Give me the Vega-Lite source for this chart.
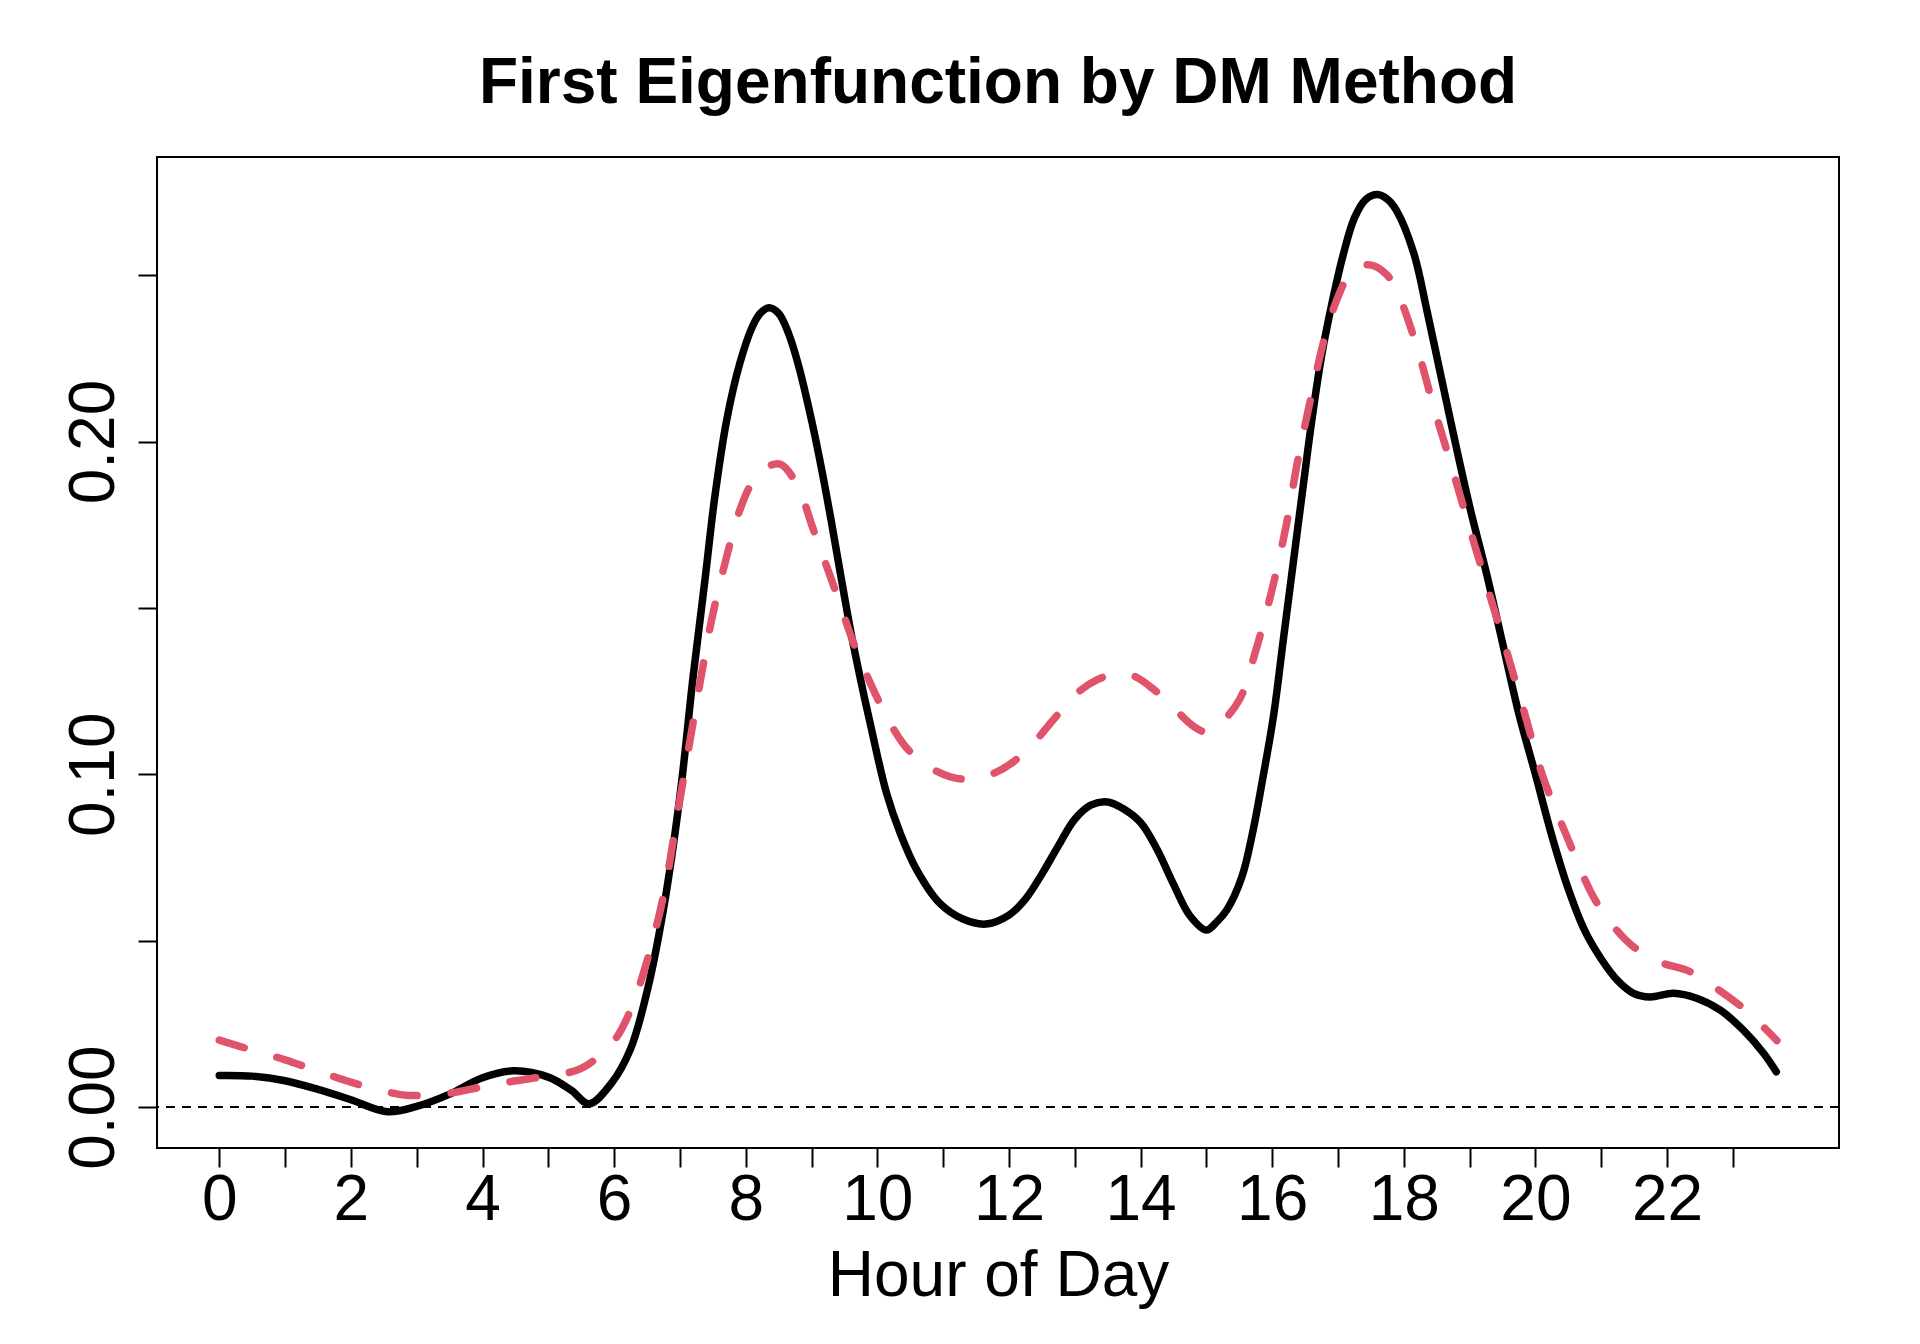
{
  "$schema": "https://vega.github.io/schema/vega-lite/v6.json",
  "width": 1682,
  "height": 991,
  "autosize": {"type": "none"},
  "padding": {"left": 157, "top": 157, "right": 81, "bottom": 196},
  "background": "white",
  "title": {
    "text": "First Eigenfunction by DM Method",
    "font": "Liberation Sans",
    "fontSize": 64,
    "fontWeight": "bold",
    "color": "black",
    "anchor": "middle",
    "baseline": "alphabetic",
    "offset": -10
  },
  "datasets": {
    "solid": [
      {"hour": 0, "value": 0.0095}, {"hour": 0.5, "value": 0.0093}, {"hour": 1, "value": 0.0079},
      {"hour": 1.5, "value": 0.0053}, {"hour": 2, "value": 0.0022}, {"hour": 2.55, "value": -0.0014},
      {"hour": 3, "value": 0.0002}, {"hour": 3.5, "value": 0.0039}, {"hour": 4, "value": 0.0088},
      {"hour": 4.47, "value": 0.0109}, {"hour": 5, "value": 0.009}, {"hour": 5.35, "value": 0.005},
      {"hour": 5.62, "value": 0.001}, {"hour": 5.96, "value": 0.0072}, {"hour": 6.25, "value": 0.0175},
      {"hour": 6.5, "value": 0.0347}, {"hour": 6.75, "value": 0.0595}, {"hour": 7, "value": 0.0935},
      {"hour": 7.2, "value": 0.1293}, {"hour": 7.38, "value": 0.1584}, {"hour": 7.53, "value": 0.1834},
      {"hour": 7.71, "value": 0.2064}, {"hour": 7.91, "value": 0.2235}, {"hour": 8.1, "value": 0.2345},
      {"hour": 8.22, "value": 0.2385}, {"hour": 8.35, "value": 0.2402}, {"hour": 8.5, "value": 0.2385},
      {"hour": 8.65, "value": 0.2325}, {"hour": 8.8, "value": 0.223}, {"hour": 9, "value": 0.2064},
      {"hour": 9.15, "value": 0.192}, {"hour": 9.3, "value": 0.176}, {"hour": 9.45, "value": 0.159},
      {"hour": 9.6, "value": 0.1425}, {"hour": 9.75, "value": 0.128}, {"hour": 9.9, "value": 0.1145},
      {"hour": 10.14, "value": 0.0943}, {"hour": 10.35, "value": 0.0822}, {"hour": 10.6, "value": 0.0712},
      {"hour": 10.95, "value": 0.0612}, {"hour": 11.3, "value": 0.0565}, {"hour": 11.65, "value": 0.055},
      {"hour": 12, "value": 0.0577}, {"hour": 12.25, "value": 0.0625}, {"hour": 12.5, "value": 0.07},
      {"hour": 12.75, "value": 0.0785}, {"hour": 13, "value": 0.0865}, {"hour": 13.25, "value": 0.0908},
      {"hour": 13.5, "value": 0.0917}, {"hour": 13.75, "value": 0.0895}, {"hour": 14, "value": 0.0855},
      {"hour": 14.25, "value": 0.0775}, {"hour": 14.5, "value": 0.067}, {"hour": 14.75, "value": 0.0575},
      {"hour": 15, "value": 0.0532}, {"hour": 15.15, "value": 0.0555}, {"hour": 15.31, "value": 0.0592},
      {"hour": 15.54, "value": 0.0692}, {"hour": 15.71, "value": 0.0832}, {"hour": 15.85, "value": 0.098},
      {"hour": 16.02, "value": 0.1175}, {"hour": 16.17, "value": 0.1406}, {"hour": 16.32, "value": 0.1636},
      {"hour": 16.47, "value": 0.1865}, {"hour": 16.6, "value": 0.2061}, {"hour": 16.75, "value": 0.2257},
      {"hour": 16.91, "value": 0.2417}, {"hour": 17.08, "value": 0.2562}, {"hour": 17.25, "value": 0.2672},
      {"hour": 17.42, "value": 0.2727}, {"hour": 17.6, "value": 0.2742}, {"hour": 17.75, "value": 0.2728},
      {"hour": 17.89, "value": 0.2694}, {"hour": 18.15, "value": 0.2567}, {"hour": 18.35, "value": 0.2395},
      {"hour": 18.55, "value": 0.221}, {"hour": 18.75, "value": 0.2026}, {"hour": 19.01, "value": 0.1797},
      {"hour": 19.26, "value": 0.1601}, {"hour": 19.5, "value": 0.1395}, {"hour": 19.75, "value": 0.118},
      {"hour": 20, "value": 0.1}, {"hour": 20.25, "value": 0.0815}, {"hour": 20.5, "value": 0.0655},
      {"hour": 20.75, "value": 0.053}, {"hour": 21, "value": 0.0445}, {"hour": 21.25, "value": 0.038},
      {"hour": 21.49, "value": 0.0342}, {"hour": 21.74, "value": 0.0331}, {"hour": 22.1, "value": 0.0342},
      {"hour": 22.45, "value": 0.0327}, {"hour": 22.81, "value": 0.0291}, {"hour": 23.16, "value": 0.0231},
      {"hour": 23.47, "value": 0.0161}, {"hour": 23.66, "value": 0.0106}
    ],
    "dashed": [
      {"hour": 0, "value": 0.0201}, {"hour": 0.5, "value": 0.0171}, {"hour": 1, "value": 0.0142},
      {"hour": 1.5, "value": 0.0108}, {"hour": 2, "value": 0.0075}, {"hour": 2.5, "value": 0.0048},
      {"hour": 2.87, "value": 0.0035}, {"hour": 3.5, "value": 0.0042}, {"hour": 4, "value": 0.0061},
      {"hour": 4.5, "value": 0.0079}, {"hour": 5, "value": 0.0094}, {"hour": 5.5, "value": 0.0116},
      {"hour": 6, "value": 0.02}, {"hour": 6.25, "value": 0.0292}, {"hour": 6.5, "value": 0.0439},
      {"hour": 6.75, "value": 0.0635}, {"hour": 7, "value": 0.0925}, {"hour": 7.33, "value": 0.1303},
      {"hour": 7.48, "value": 0.1463}, {"hour": 7.71, "value": 0.1654}, {"hour": 7.91, "value": 0.1794},
      {"hour": 8.09, "value": 0.1874}, {"hour": 8.3, "value": 0.192}, {"hour": 8.52, "value": 0.1932},
      {"hour": 8.77, "value": 0.1874}, {"hour": 9.03, "value": 0.1734}, {"hour": 9.36, "value": 0.1553},
      {"hour": 9.69, "value": 0.1368}, {"hour": 10.09, "value": 0.1193}, {"hour": 10.4, "value": 0.109},
      {"hour": 10.7, "value": 0.1033}, {"hour": 11.1, "value": 0.0993}, {"hour": 11.45, "value": 0.0985},
      {"hour": 11.77, "value": 0.1003}, {"hour": 12.05, "value": 0.1035}, {"hour": 12.37, "value": 0.1093},
      {"hour": 12.7, "value": 0.117}, {"hour": 13.03, "value": 0.1243}, {"hour": 13.35, "value": 0.1285},
      {"hour": 13.64, "value": 0.1303}, {"hour": 13.9, "value": 0.1295}, {"hour": 14.2, "value": 0.1255},
      {"hour": 14.5, "value": 0.12}, {"hour": 14.8, "value": 0.1145}, {"hour": 15, "value": 0.1127},
      {"hour": 15.2, "value": 0.115}, {"hour": 15.51, "value": 0.1227}, {"hour": 15.74, "value": 0.1365},
      {"hour": 15.99, "value": 0.1549}, {"hour": 16.21, "value": 0.1745}, {"hour": 16.38, "value": 0.1934},
      {"hour": 16.58, "value": 0.2124}, {"hour": 16.8, "value": 0.2314}, {"hour": 17, "value": 0.2435},
      {"hour": 17.18, "value": 0.2505}, {"hour": 17.35, "value": 0.2528}, {"hour": 17.51, "value": 0.253},
      {"hour": 17.68, "value": 0.2512}, {"hour": 17.84, "value": 0.2475}, {"hour": 18.17, "value": 0.2303},
      {"hour": 18.45, "value": 0.2107}, {"hour": 18.73, "value": 0.1923}, {"hour": 19.01, "value": 0.1733},
      {"hour": 19.29, "value": 0.1549}, {"hour": 19.57, "value": 0.1365}, {"hour": 19.84, "value": 0.118},
      {"hour": 20.12, "value": 0.099}, {"hour": 20.48, "value": 0.0812}, {"hour": 20.88, "value": 0.0632},
      {"hour": 21.2, "value": 0.054}, {"hour": 21.49, "value": 0.0482}, {"hour": 21.9, "value": 0.0435},
      {"hour": 22.35, "value": 0.0407}, {"hour": 22.8, "value": 0.035}, {"hour": 23.16, "value": 0.0297},
      {"hour": 23.36, "value": 0.0261}, {"hour": 23.67, "value": 0.02}
    ]
  },
  "layer": [
    {
      "data": {"name": "solid"},
      "mark": {"type": "line", "color": "black", "strokeWidth": 7.5, "interpolate": "catmull-rom", "strokeCap": "round", "strokeJoin": "round"},
      "encoding": {
        "x": {
          "field": "hour",
          "type": "quantitative",
          "scale": {"domain": [-0.9467, 24.6133], "nice": false, "zero": false},
          "axis": {
            "title": "Hour of Day",
            "values": [0, 1, 2, 3, 4, 5, 6, 7, 8, 9, 10, 11, 12, 13, 14, 15, 16, 17, 18, 19, 20, 21, 22, 23],
            "format": "d",
            "labelExpr": "datum.value % 2 === 0 ? datum.label : ''",
            "labelOverlap": false,
            "labelFlush": false,
            "labelBaseline": "alphabetic",
            "labelPadding": 52,
            "titleBaseline": "alphabetic",
            "titleAlign": "center",
            "titleAnchor": "middle",
            "titleX": 841,
            "titleY": 147
          }
        },
        "y": {
          "field": "value",
          "type": "quantitative",
          "scale": {"domain": [-0.0123, 0.2855], "nice": false, "zero": false},
          "axis": {
            "title": null,
            "values": [0, 0.05, 0.1, 0.15, 0.2, 0.25],
            "format": ".2f",
            "labelExpr": "round(datum.value * 100) % 10 === 0 ? datum.label : ''",
            "labelOverlap": false,
            "labelFlush": false,
            "labelAngle": -90,
            "labelAlign": "center",
            "labelBaseline": "alphabetic",
            "labelPadding": 25
          }
        }
      }
    },
    {
      "data": {"name": "dashed"},
      "mark": {"type": "line", "color": "#DF536B", "strokeWidth": 7.5, "interpolate": "catmull-rom", "strokeCap": "round", "strokeDash": [26, 34]},
      "encoding": {
        "x": {"field": "hour", "type": "quantitative"},
        "y": {"field": "value", "type": "quantitative"}
      }
    },
    {
      "data": {"values": [{}]},
      "mark": {"type": "rule", "color": "black", "strokeWidth": 2, "strokeDash": [9, 7]},
      "encoding": {"y": {"datum": 0, "type": "quantitative"}}
    }
  ],
  "config": {
    "view": {"stroke": "black", "strokeWidth": 2},
    "axis": {
      "domain": false,
      "grid": false,
      "ticks": true,
      "tickSize": 19,
      "tickWidth": 2,
      "tickColor": "black",
      "labelFont": "Liberation Sans",
      "labelFontSize": 64,
      "labelColor": "black",
      "titleFont": "Liberation Sans",
      "titleFontSize": 64,
      "titleFontWeight": "normal",
      "titleColor": "black"
    }
  }
}
